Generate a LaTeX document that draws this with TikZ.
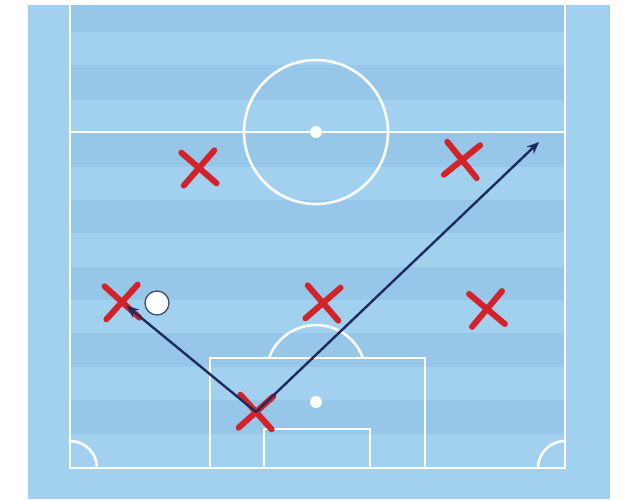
\documentclass[tikz,border=0pt]{standalone}
\usetikzlibrary{shapes.misc,arrows.meta}
\definecolor{panel}{HTML}{A2D1EF}
\definecolor{stripe}{HTML}{96C7E9}
\definecolor{xred}{HTML}{D2232A}
\definecolor{navy}{HTML}{1F2A5E}
\definecolor{ballline}{HTML}{3E4E66}
\tikzset{
  fieldline/.style={white, line width=2.6pt},
  xmark/.style={cross out, draw=xred, line width=6pt, line cap=round, minimum size=33pt, inner sep=0pt, outer sep=0pt},
  ballnode/.style={circle, fill=white, draw=ballline, line width=1.3pt, minimum size=24pt, inner sep=0pt},
  pass/.style={navy, line width=2.4pt, -{Stealth[length=12pt,width=10pt]}}
}
\begin{document}
\begin{tikzpicture}[x=1pt,y=-1pt]
\useasboundingbox (0,0) rectangle (623,499);
\fill[white] (0,0) rectangle (623,499);
\fill[panel] (28,5) rectangle (610,499);
\foreach \a/\b in {5/32,65/100,132/167,200/233,267/300,333/367,400/434}
  \fill[stripe] (70,\a) rectangle (565,\b);
% pitch markings
\draw[fieldline] (70,5) -- (70,468) -- (565,468) -- (565,5);
\draw[fieldline] (70,132) -- (565,132);
\draw[fieldline] (316,132) circle[radius=72];
\fill[white] (316,132) circle[radius=6];
\draw[fieldline] (210,468) -- (210,358) -- (425,358) -- (425,468);
\draw[fieldline] (264,468) -- (264,429) -- (370,429) -- (370,468);
\fill[white] (316,402) circle[radius=6];
\draw[fieldline] (269,357.9) arc[start angle=200,end angle=340,radius=50];
\draw[fieldline] (97,468) arc[start angle=0,end angle=-90,radius=27];
\draw[fieldline] (538,468) arc[start angle=180,end angle=270,radius=27];
% players
\node[xmark, rotate=4] (p1) at (199,168) {};
\node[xmark, rotate=-6] (p2) at (462,160) {};
\node[xmark, rotate=3] (p3) at (122,302) {};
\node[xmark, rotate=-4] (p4) at (323,303) {};
\node[xmark, rotate=5] (p5) at (487,309) {};
\node[xmark, rotate=-3] (p6) at (256,412) {};
% ball
\node[ballnode] (ball) at (157,303) {};
% passes
\coordinate (t2) at (539,142);
\draw[pass, shorten >=6pt] (p6.center) -- (p3.center);
\draw[pass] (p6.center) -- (t2);
\end{tikzpicture}
\end{document}
